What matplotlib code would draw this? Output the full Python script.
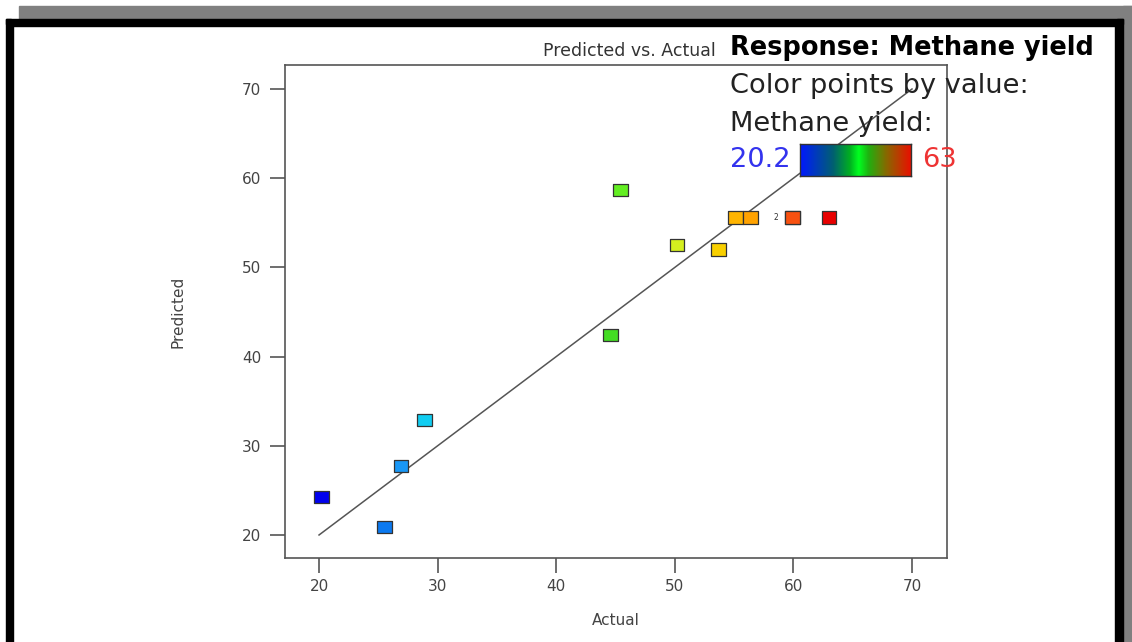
import numpy as np
import matplotlib
matplotlib.use("Agg")
import matplotlib.pyplot as plt
from matplotlib.colors import LinearSegmentedColormap, Normalize
from matplotlib.patches import Rectangle
from matplotlib.path import Path

# ---- data ----
actual = [20.2, 25.5, 26.9, 28.9, 44.6, 45.4, 50.2, 53.7, 55.1, 56.4, 59.9, 59.9, 63.0]
predicted = [24.3, 20.9, 27.7, 32.9, 42.4, 58.7, 52.5, 52.0, 55.6, 55.6, 55.6, 55.6, 55.6]
vmin, vmax = 20.2, 63.0
ticks = [20, 30, 40, 50, 60, 70]

pt_cmap = LinearSegmentedColormap.from_list("pts", [
    (0.00, "#0000ee"), (0.12, "#0a78f0"), (0.16, "#1a9af5"), (0.21, "#10d4f0"),
    (0.40, "#20e0a0"), (0.57, "#44dc22"), (0.59, "#66f022"), (0.70, "#d4f020"),
    (0.78, "#f8d400"), (0.815, "#ffb400"), (0.85, "#ffa000"), (0.93, "#f85010"),
    (1.00, "#e80000")])
bar_cmap = LinearSegmentedColormap.from_list("bar", [
    (0.00, "#0018ff"), (0.10, "#0030d0"), (0.30, "#006070"), (0.45, "#00b020"),
    (0.53, "#00ff20"), (0.62, "#20b010"), (0.78, "#886800"), (0.92, "#c83000"),
    (1.00, "#e81000")])
norm = Normalize(vmin, vmax)

W, H = 1132, 642
fig = plt.figure(figsize=(W / 100, H / 100), dpi=100)
fig.patch.set_facecolor("white")
renderer = fig.canvas.get_renderer()

def fx(px):
    return px / W

def fy(py):
    return 1 - py / H

def fit_text(x0, x1, yc, s, **kw):
    t = fig.text(fx(x0), fy(yc), s, ha="left", va="center", fontsize=12, **kw)
    w = t.get_window_extent(renderer).width
    t.set_fontsize(12 * (x1 - x0) / w)
    return t

# decorative frame
fig.patches.append(Rectangle((fx(19), fy(19)), fx(1113), 13 / H, transform=fig.transFigure,
                             color="#808080", zorder=0))
fig.patches.append(Rectangle((fx(1123), 0), fx(9), fy(6), transform=fig.transFigure,
                             color="#808080", zorder=0))
for (x0, y0, w, h) in [(6, 19, 1117, 5), (6, 19, 4.5, 642), (1117, 19, 6, 642)]:
    fig.patches.append(Rectangle((fx(x0), fy(y0 + h)), w / W, h / H, transform=fig.transFigure,
                                 color="black", zorder=1))
for (x0, y0, w, h) in [(11, 24, 1104, 1.5), (11, 24, 1.5, 642), (1114.5, 24, 1.5, 642)]:
    fig.patches.append(Rectangle((fx(x0), fy(y0 + h)), w / W, h / H, transform=fig.transFigure,
                                 color="black", zorder=1))

ax = fig.add_axes([fx(285), fy(558), fx(947) - fx(285), fy(65) - fy(558)])
ax.set_xlim(17.13, 72.95)
ax.set_ylim(17.42, 72.69)
ax.set_xticks(ticks)
ax.set_yticks(ticks)
for s in ax.spines.values():
    s.set_color("#555555")
    s.set_linewidth(1.2)
ax.tick_params(axis="both", direction="out", length=11, width=1.2, color="#555555",
               labelcolor="#444444", labelsize=11)
ax.tick_params(axis="y", pad=6)
ax.tick_params(axis="x", pad=4)

ax.plot([20, 70], [20, 70], color="#555555", lw=1.1, zorder=2, clip_on=False)

rect = Path([(-0.6, -0.5), (0.6, -0.5), (0.6, 0.5), (-0.6, 0.5), (-0.6, -0.5)],
            [Path.MOVETO, Path.LINETO, Path.LINETO, Path.LINETO, Path.CLOSEPOLY])
ax.scatter(actual, predicted, c=actual, cmap=pt_cmap, norm=norm, marker=rect, s=110,
           edgecolors="#333333", linewidths=0.9, zorder=3)
ax.text(58.5, 55.6, "2", fontsize=5.5, ha="center", va="center", color="#333333")

ax.set_xlabel("Actual", fontsize=11, color="#444444", labelpad=14)
ax.set_ylabel("Predicted", fontsize=11, color="#444444", labelpad=41,
              family=["Liberation Sans Narrow", "DejaVu Sans"])

# header texts
fig.text(fx(716), fy(51), "Predicted vs. Actual", fontsize=12.5, color="#333333",
         ha="right", va="center")
fit_text(730, 1092, 48, "Response: Methane yield", weight="bold", color="black")
t_ref = fit_text(730, 1027, 86, "Color points by value:", color="#222222")
fs = t_ref.get_fontsize()
fig.text(fx(730), fy(124), "Methane yield:", fontsize=fs, color="#222222", va="center", ha="left")
fig.text(fx(730), fy(160), f"{vmin:g}", fontsize=fs, color="#3333ee", va="center", ha="left")
fig.text(fx(922), fy(160), f"{vmax:g}", fontsize=fs, color="#ee3333", va="center", ha="left")

cax = fig.add_axes([fx(800), fy(176), fx(911) - fx(800), fy(144) - fy(176)])
grad = np.linspace(vmin, vmax, 256)[None, :]
cax.imshow(grad, cmap=bar_cmap, norm=norm, aspect="auto")
cax.set_xticks([])
cax.set_yticks([])
for s in cax.spines.values():
    s.set_color("#333333")
    s.set_linewidth(1.0)

fig.savefig("out.png", dpi=100)
